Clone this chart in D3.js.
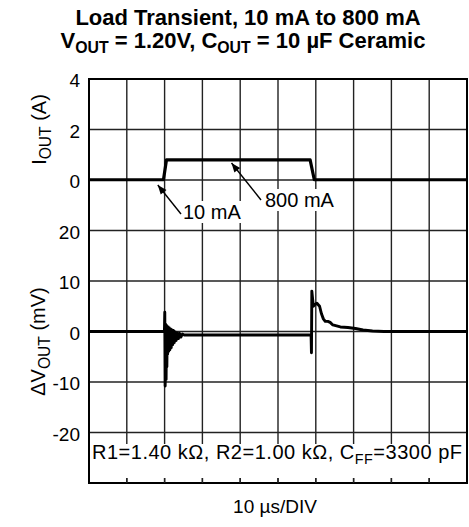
<!DOCTYPE html>
<html>
<head>
<meta charset="utf-8">
<script src="https://cdn.jsdelivr.net/npm/d3@7"></script>
<style>
    body { margin: 0; background: #fff; }
    text { font-family: "Liberation Sans", Arial, Helvetica, sans-serif; fill: #000; }
</style>
</head>
<body>
<svg id="chart" width="469" height="527"></svg>
<script>
// values
const iTicks = [4, 2, 0];
const vTicks = [20, 10, 0, -10, -20];

const currentT = [0, 19.7, 20.5, 58.5, 59.6, 100];
const currentA = [0.01, 0.01, 0.8, 0.8, 0.01, 0.01];

const voltT = [0, 19.95, 20.05, 20.15, 20.3, 20.4, 20.5, 20.6, 20.7, 20.8, 20.95, 21.1, 21.25, 21.4,
    21.55, 21.75, 21.95, 22.15, 22.35, 22.55, 22.8, 23.05, 23.35, 23.65, 23.95, 24.3, 24.7, 25.2,
    58.75, 58.85, 58.95, 59.15, 59.35, 59.7, 60.3, 61.0, 61.5, 62.0, 62.5, 63.2, 63.8, 64.5,
    65.5, 66.5, 68.5, 70.5, 72.5, 75, 78, 100];
const voltMV = [0, 0, 3.8, -10.8, 1.4, -9.5, 1.2, -7, 1.0, -4.5, 0.9, -3.9, 0.7, -3.6,
    0.5, -3.2, 0.3, -2.6, 0.2, -2.2, -0.1, -1.8, -0.3, -1.4, -0.4, -1.1, -0.5, -0.7,
    -0.7, -4.2, 8.0, 6.5, 5.0, 5.3, 5.6, 5.0, 3.5, 2.5, 2.0, 2.0, 1.8, 1.3,
    1.1, 0.9, 0.8, 0.6, 0.3, 0.1, 0, 0];

const svg = d3.select("#chart");
const pLeft = 89, pRight = 467, pTop = 79, pBottom = 483;

const x = d3.scaleLinear().domain([0, 100]).range([pLeft, pRight]);
const yI = d3.scaleLinear().domain([-12, 4]).range([pBottom, pTop]);
const yV = d3.scaleLinear().domain([-30, 50]).range([pBottom, pTop]);

// grid
const grid = svg.append("g").attr("stroke", "#222").attr("stroke-width", 1.4);
grid.selectAll("line.v")
    .data(x.ticks(10).slice(1, -1))
    .enter().append("line")
    .attr("x1", d => x(d)).attr("x2", d => x(d))
    .attr("y1", pTop).attr("y2", pBottom);
grid.selectAll("line.h")
    .data(yV.ticks(8).slice(1, -1))
    .enter().append("line")
    .attr("x1", pLeft).attr("x2", pRight)
    .attr("y1", d => yV(d)).attr("y2", d => yV(d));

// white patch behind the resistor note
svg.append("rect").attr("x", pLeft).attr("y", 444).attr("width", pRight - pLeft).attr("height", 34).attr("fill", "#fff");

// traces
svg.append("path")
    .datum(currentT.map((t, i) => [t, currentA[i]]))
    .attr("fill", "none").attr("stroke", "#000").attr("stroke-width", 3.2)
    .attr("stroke-linejoin", "round")
    .attr("d", d3.line().x(d => x(d[0])).y(d => yI(d[1])));

svg.append("path")
    .datum(voltT.map((t, i) => [t, voltMV[i]]))
    .attr("fill", "none").attr("stroke", "#000").attr("stroke-width", 2.9)
    .attr("stroke-linejoin", "round")
    .attr("d", d3.line().x(d => x(d[0])).y(d => yV(d[1])));

// border
svg.append("rect")
    .attr("x", pLeft).attr("y", pTop).attr("width", pRight - pLeft).attr("height", pBottom - pTop)
    .attr("fill", "none").attr("stroke", "#000").attr("stroke-width", 2);

// bottom ticks
svg.append("g").attr("stroke", "#222").attr("stroke-width", 1.4)
    .selectAll("line")
    .data(x.ticks(10).slice(1, -1))
    .enter().append("line")
    .attr("x1", d => x(d)).attr("x2", d => x(d))
    .attr("y1", pBottom - 5).attr("y2", pBottom);

// tick labels
const fs = 19;
svg.append("g").selectAll("text")
    .data(iTicks)
    .enter().append("text")
    .attr("x", 80).attr("y", d => yI(d) + 8)
    .attr("text-anchor", "end").attr("font-size", fs)
    .text(d => d);
svg.append("g").selectAll("text")
    .data(vTicks)
    .enter().append("text")
    .attr("x", 80).attr("y", d => yV(d) + 8)
    .attr("text-anchor", "end").attr("font-size", fs)
    .text(d => d);

function subText(sel, parts, size, ratio) {
    parts.forEach(p => {
        sel.append("tspan")
            .attr("font-size", p.sub ? size * (ratio || 0.72) : size)
            .attr("dy", p.sub ? 5 : (p.back ? -5 : 0))
            .text(p.t);
    });
}

// axis titles
let t1 = svg.append("text")
    .attr("transform", `translate(46,${yI(2)}) rotate(-90)`)
    .attr("text-anchor", "middle");
subText(t1, [{t: "I"}, {t: "OUT", sub: true}, {t: " (A)", back: true}], 20, 0.78);

let t2 = svg.append("text")
    .attr("transform", `translate(45,${yV(0) + 10}) rotate(-90)`)
    .attr("text-anchor", "middle");
subText(t2, [{t: "ΔV"}, {t: "OUT", sub: true}, {t: " (mV)", back: true}], 20, 0.78);

// chart title
svg.append("text")
    .attr("x", 248).attr("y", 25).attr("text-anchor", "middle")
    .attr("font-size", 22).attr("font-weight", "bold")
    .text("Load Transient, 10 mA to 800 mA");
let t3 = svg.append("text")
    .attr("x", 243).attr("y", 48).attr("text-anchor", "middle")
    .attr("font-weight", "bold");
subText(t3, [{t: "V"}, {t: "OUT", sub: true}, {t: " = 1.20V, C", back: true},
    {t: "OUT", sub: true}, {t: " = 10 µF Ceramic", back: true}], 22);

// annotations
function arrow(x1, y1, x2, y2) {
    let a = Math.atan2(y2 - y1, x2 - x1);
    let h = 10, w = 0.38;
    svg.append("line")
        .attr("x1", x1).attr("y1", y1).attr("x2", x2).attr("y2", y2)
        .attr("stroke", "#000").attr("stroke-width", 1.4);
    svg.append("path")
        .attr("d", `M${x2},${y2}L${x2 - h * Math.cos(a - w)},${y2 - h * Math.sin(a - w)}L${x2 - h * Math.cos(a + w)},${y2 - h * Math.sin(a + w)}Z`)
        .attr("fill", "#000");
}

function label(tx, ty, str) {
    let t = svg.append("text").attr("x", tx).attr("y", ty).attr("font-size", 20).text(str);
    let b = t.node().getBBox();
    svg.insert("rect", () => t.node())
        .attr("x", b.x - 1).attr("y", b.y).attr("width", b.width + 2).attr("height", b.height)
        .attr("fill", "#fff");
}

label(183, 219, "10 mA");
label(265, 207, "800 mA");
arrow(181, 214, x(18.2), 185);
arrow(261, 200, x(37.7), 163);

let t4 = svg.append("text")
    .attr("x", 92).attr("y", 459).attr("font-size", 20)
    .attr("textLength", 370).attr("lengthAdjust", "spacing");
subText(t4, [{t: "R1=1.40 kΩ, R2=1.00 kΩ, C"}, {t: "FF", sub: true}, {t: "=3300 pF", back: true}], 20);

svg.append("text")
    .attr("x", 275).attr("y", 513).attr("text-anchor", "middle")
    .attr("font-size", fs)
    .text("10 µs/DIV");
</script>
</body>
</html>
